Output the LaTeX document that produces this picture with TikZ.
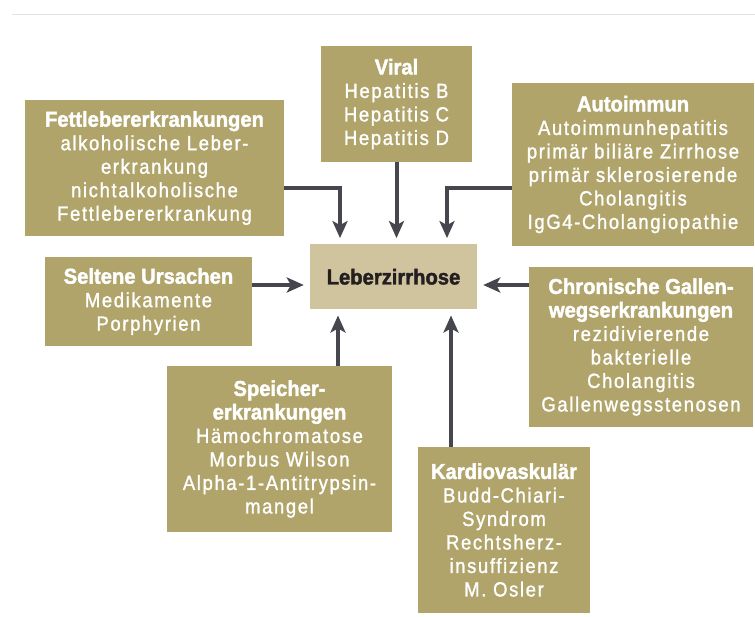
\documentclass[tikz,border=0pt]{standalone}
\usepackage{fontspec}
\setmainfont{Liberation Sans}
\newfontfamily\regf[LetterSpace=8,FakeStretch=0.9,FakeBold=1.3]{Liberation Sans}
\newfontfamily\hdf[FakeStretch=0.94,FakeBold=1.8]{Liberation Sans Bold}
\usetikzlibrary{arrows.meta}
\definecolor{boxol}{HTML}{B0A46B}
\definecolor{cenbox}{HTML}{CFC49E}
\definecolor{arrc}{HTML}{46464E}
\definecolor{centext}{HTML}{231F20}
\newcommand\hd[1]{{\hdf\fontsize{21.5}{23.5}\selectfont #1}}
\tikzset{
  cause/.style={fill=boxol, text=white, inner sep=0pt, align=center,
    font=\regf\fontsize{20.5}{23.5}\selectfont},
  arr/.style={draw=arrc, line width=4pt, line join=miter,
    -{Stealth[length=17pt,width=15pt,inset=4pt]}, shorten >=6pt},
  topline/.style={draw=gray!22, line width=1.2pt}
}
\begin{document}
\begin{tikzpicture}[x=1pt,y=-1pt]
\useasboundingbox (0,0) rectangle (755,617);
\coordinate (tl) at (12,14.5);
\coordinate (tr) at (755,14.5);
\draw[topline] (tl) -- (tr);

\node[cause, minimum width=259pt, minimum height=136pt] (fett) at (154.5,168)
  {\hd{Fettlebererkrankungen}\\alkoholische Leber-\\erkrankung\\nichtalkoholische\\Fettlebererkrankung};
\node[cause, minimum width=151pt, minimum height=116pt] (viral) at (396.5,104)
  {\hd{Viral}\\Hepatitis B\\Hepatitis C\\Hepatitis D};
\node[cause, minimum width=242pt, minimum height=163pt] (auto) at (633,164.5)
  {\hd{Autoimmun}\\Autoimmunhepatitis\\primär biliäre Zirrhose\\primär sklerosierende\\Cholangitis\\IgG4-Cholangiopathie};
\node[cause, minimum width=224pt, minimum height=160pt] (chron) at (641,347)
  {\hd{Chronische Gallen-}\\\hd{wegserkrankungen}\\rezidivierende\\bakterielle\\Cholangitis\\Gallenwegsstenosen};
\node[fill=cenbox, text=centext, inner sep=0pt, minimum width=167pt, minimum height=65pt,
  font=\hdf\fontsize{21.5}{23.5}\selectfont] (cen) at (393.5,276.8) {Leberzirrhose};
\node[cause, minimum width=207pt, minimum height=89pt] (selt) at (148.5,301.5)
  {\hd{Seltene Ursachen}\\Medikamente\\Porphyrien};
\node[cause, minimum width=225pt, minimum height=166pt] (speich) at (279.5,449)
  {\hd{Speicher-}\\\hd{erkrankungen}\\Hämochromatose\\Morbus Wilson\\Alpha-1-Antitrypsin-\\mangel};
\node[cause, minimum width=172pt, minimum height=166pt] (kard) at (504,530)
  {\hd{Kardiovaskulär}\\Budd-Chiari-\\Syndrom\\Rechtsherz-\\insuffizienz\\M. Osler};

\coordinate (j1) at (340,188);
\coordinate (j2) at (447,188);
\coordinate (j3) at (0,285);
\coordinate (j4) at (338,0);
\coordinate (j5) at (451,0);

\draw[arr] (j1 -| fett.east) -- (j1) -- (j1 |- cen.north);
\draw[arr] (viral.south) -- (viral.south |- cen.north);
\draw[arr] (j2 -| auto.west) -- (j2) -- (j2 |- cen.north);
\draw[arr] (j3 -| selt.east) -- (j3 -| cen.west);
\draw[arr] (j3 -| chron.west) -- (j3 -| cen.east);
\draw[arr] (j4 |- speich.north) -- (j4 |- cen.south);
\draw[arr] (j5 |- kard.north) -- (j5 |- cen.south);
\end{tikzpicture}
\end{document}
